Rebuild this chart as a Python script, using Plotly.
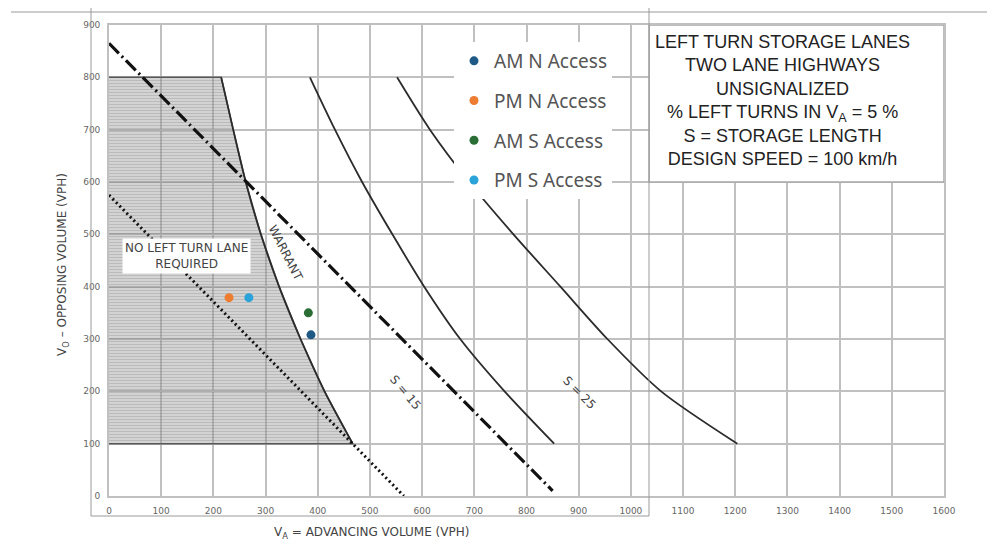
import plotly.graph_objects as go

# ---------------- data ----------------
point_names = ["AM N Access", "PM N Access", "AM S Access", "PM S Access"]
point_va = [387, 230, 382, 268]
point_vo = [308, 379, 350, 379]
point_colors = ["#1f5a87", "#ed7d31", "#2a6e35", "#2aa3d9"]

warrant_va = [215, 238, 262, 291, 326, 367, 413, 467]
warrant_vo = [800, 700, 600, 500, 400, 300, 200, 100]

s15_va = [385, 433, 485, 543, 604, 673, 758, 853]
s15_vo = [800, 700, 600, 500, 400, 300, 200, 100]

s25_va = [552, 615, 690, 775, 865, 955, 1058, 1204]
s25_vo = [800, 700, 600, 500, 400, 300, 200, 100]

dashed_va = [0, 850]
dashed_vo = [865, 10]

dotted_va = [0, 565]
dotted_vo = [575, 0]

shade_top = 800
shade_bottom = 100

title_lines = ["LEFT TURN STORAGE LANES", "TWO LANE HIGHWAYS", "UNSIGNALIZED",
               "% LEFT TURNS IN V<sub>A</sub> = 5 %", "S = STORAGE LENGTH",
               "DESIGN SPEED = 100 km/h"]

# ---------------- figure ----------------
W, H = 995, 552
OX, OY = 7, 8            # page offset of the plot in the browser
L, R, T, B = 108 - OX, 52 + OX, 25 - OY, 56 + OY
pw, ph = W - L - R, H - T - B


def px_x(p):             # screen pixel -> paper x
    return (p - 108) / pw


def px_y(p):             # screen pixel -> paper y
    return (496 - p) / ph


fig = go.Figure()

# shaded "no left turn lane" region
fig.add_trace(go.Scatter(
    x=[0] + warrant_va + [0],
    y=[shade_top] + warrant_vo + [shade_bottom],
    fill="toself", mode="lines",
    line=dict(color="rgba(80,80,80,0.9)", width=1.5),
    fillcolor="rgba(140,140,140,0.42)",
    fillpattern=dict(shape="-", fgcolor="rgba(110,110,110,0.55)",
                     bgcolor="rgba(150,150,150,0.40)", size=3, solidity=0.4),
    hoverinfo="skip", showlegend=False))

line_black = "#2b2b2b"
for xs, ys in [(warrant_va, warrant_vo), (s15_va, s15_vo), (s25_va, s25_vo)]:
    fig.add_trace(go.Scatter(x=xs, y=ys, mode="lines",
                             line=dict(color=line_black, width=1.8, shape="spline", smoothing=0.8),
                             showlegend=False, hoverinfo="skip"))
fig.add_trace(go.Scatter(x=dashed_va, y=dashed_vo, mode="lines",
                         line=dict(color="#111111", width=3.2, dash="14px,4px,2px,4px"),
                         showlegend=False, hoverinfo="skip"))
fig.add_trace(go.Scatter(x=dotted_va, y=dotted_vo, mode="lines",
                         line=dict(color="#111111", width=3, dash="2px,3px"),
                         showlegend=False, hoverinfo="skip"))

for i, (n, xv, yv, c) in enumerate(zip(point_names, point_va, point_vo, point_colors)):
    fig.add_trace(go.Scatter(x=[xv], y=[yv], mode="markers", name=n,
                             legendgroup=f"g{i}",
                             marker=dict(color=c, size=9)))

grid_c = "#c0c0c0"
axis_common = dict(dtick=100, tick0=0, showgrid=True, gridcolor=grid_c,
                   gridwidth=1.7, zeroline=False, showline=True, mirror=True,
                   linecolor=grid_c, linewidth=1.7, ticks="",
                   tickfont=dict(family="DejaVu Sans", size=9, color="#666"),
                   ticklabelstandoff=5)
fig.update_xaxes(range=[0, 1600], **axis_common)
fig.update_yaxes(range=[0, 900], **axis_common)

shapes = [
    # title block
    dict(type="rect", xref="x", yref="y", x0=1035, x1=1600, y0=600, y1=900,
         fillcolor="white", line=dict(color="#a8a8a8", width=1.5), layer="above"),
    # scan overlay frame
    dict(type="rect", xref="paper", yref="paper", x0=px_x(90), x1=px_x(648),
         y0=px_y(516), y1=px_y(7), line=dict(color="#9a9a9a", width=1), layer="above"),
    dict(type="line", xref="paper", yref="paper", x0=px_x(10), x1=px_x(990),
         y0=px_y(12), y1=px_y(12), line=dict(color="#9a9a9a", width=1)),
]

lab_font = dict(family="DejaVu Sans", size=12, color="#444")
C = dict(xanchor="center", yanchor="middle", showarrow=False)
annotations = [
    dict(x=148, y=459, xref="x", yref="y", text="NO LEFT TURN LANE<br>REQUIRED",
         font=lab_font, bgcolor="white", borderpad=2, **C),
    dict(x=338, y=464, xref="x", yref="y", text="WARRANT", textangle=63,
         font=lab_font, **C),
    dict(x=569, y=197, xref="x", yref="y", text="S = 15", textangle=50,
         font=lab_font, **C),
    dict(x=902, y=197, xref="x", yref="y", text="S = 25", textangle=45,
         font=lab_font, **C),
    dict(x=1291, y=755, xref="x", yref="y", text="<br>".join(title_lines),
         align="center", font=dict(family="Liberation Sans", size=18, color="#222"), **C),
    dict(x=px_x(370), y=px_y(533), xref="paper", yref="paper",
         text="V<sub>A</sub> = ADVANCING VOLUME (VPH)",
         font=dict(family="DejaVu Sans", size=12, color="#444"), **C),
    dict(x=px_x(62), y=px_y(265), xref="paper", yref="paper", textangle=-90,
         text="V<sub>O</sub> – OPPOSING VOLUME (VPH)",
         font=dict(family="DejaVu Sans", size=12, color="#444"), **C),
]

fig.update_layout(
    width=W, height=H,
    margin=dict(l=L, r=R, t=T, b=B),
    paper_bgcolor="white", plot_bgcolor="white",
    shapes=shapes, annotations=annotations,
    legend=dict(x=px_x(453), y=px_y(42), xanchor="left", yanchor="top",
                bgcolor="white", borderwidth=0, traceorder="grouped",
                tracegroupgap=12, itemwidth=30,
                font=dict(family="Noto Sans", size=19, color="#555")),
)

fig.write_html("out.html")
